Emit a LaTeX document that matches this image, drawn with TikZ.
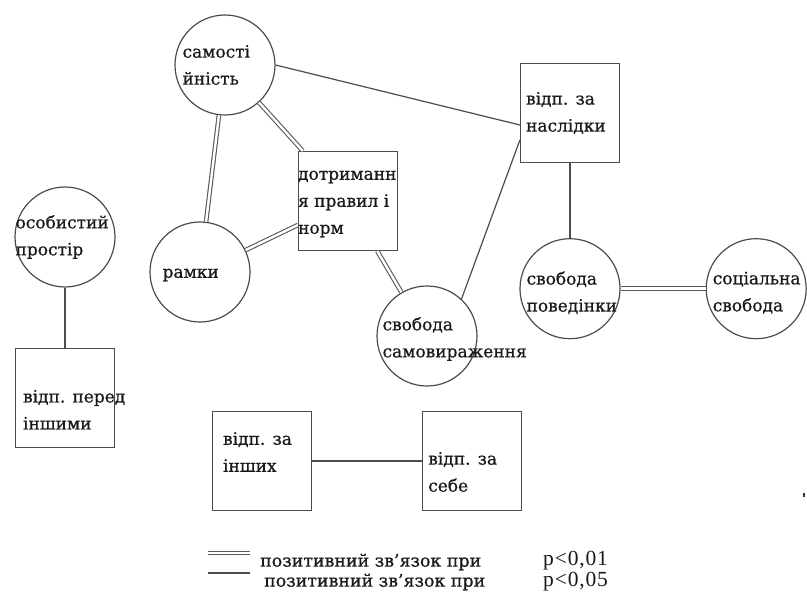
\documentclass[tikz,border=0pt]{standalone}
\usepackage{fontspec}
\setmainfont{DejaVu Serif}[FakeBold=0.7]
\newfontfamily\pfont{Liberation Serif}[LetterSpace=4]
\usetikzlibrary{positioning, calc}

\tikzset{
    circ/.style={circle, draw=black!70, line width=1.2pt, minimum size=100pt, inner sep=0pt},
    sq/.style={rectangle, draw=black!70, line width=1.2pt, minimum size=99pt, inner sep=0pt},
    lbl/.style={align=left, inner sep=0pt, text=black!90, font=\fontsize{17}{27}\selectfont},
    leg/.style={anchor=west, inner sep=0pt, text=black!90, font=\fontsize{17.4}{18}\selectfont},
    one/.style={draw=black!70, line width=1.2pt},
    two/.style={draw=black!65, line width=1.1pt, double=white, double distance=2.4pt},
}

\begin{document}
\begin{tikzpicture}[x=1pt, y=-1pt]
    \useasboundingbox (0,0) rectangle (807,599);

    % Define nodes
    \node[circ]		(samo)		at (225,65)		{};
    \node[sq]		(rules)		at (348,201)	{};
    \node[circ]		(ramky)		at (200,272)	{};
    \node[circ]		(selfexpr)	at (427,336)	{};
    \node[sq]		(naslidky)	at (570,113)	{};
    \node[circ, below = 75pt of naslidky]	(povedinka)	{};
    \node[circ, right = 85pt of povedinka]	(social)	{};
    \node[circ]		(osob)		at (65,237)		{};
    \node[sq, below = 60pt of osob]		(inshym)	{};
    \node[sq]		(zainshykh)	at (262,461)	{};
    \node[sq, right = 110pt of zainshykh]	(zasebe)	{};

    % Labels
    \node[lbl, right = 8pt of samo.west]		(samo-t)		{самості\\йність};
    \node[lbl, right = 0pt of rules.west, yshift=-3pt]	(rules-t)	{дотриманн\\я правил і\\норм};
    \node[lbl, right = 13pt of ramky.west, yshift=-3pt]	(ramky-t)	{рамки};
    \node[lbl, right = 6pt of selfexpr.west, yshift=-3pt]	(selfexpr-t)	{свобода\\самовираження};
    \node[lbl, right = 6pt of naslidky.west]	(naslidky-t)	{відп. за\\наслідки};
    \node[lbl, right = 7pt of povedinka.west, yshift=-4pt]	(povedinka-t)	{свобода\\поведінки};
    \node[lbl, right = 7pt of social.west, yshift=-4pt]	(social-t)	{соціальна\\свобода};
    \node[lbl, right = 1pt of osob.west]		(osob-t)		{особистий\\простір};
    \node[lbl, right = 8pt of inshym.west, yshift=-12pt]	(inshym-t)	{відп. перед\\іншими};
    \node[lbl, right = 11pt of zainshykh.west, yshift=9pt]	(zainshykh-t)	{відп. за\\інших};
    \node[lbl, right = 6pt of zasebe.west, yshift=-11pt]	(zasebe-t)	{відп. за\\себе};

    % Connect nodes
    \draw[two] (samo) -- (ramky);
    \draw[two] (samo) -- (rules);
    \draw[two] (ramky) -- (rules);
    \draw[two] (rules) -- (selfexpr);
    \draw[one] (samo.east) -- ($(naslidky.west)+(0,12)$);
    \draw[one] (selfexpr.47) -- ($(naslidky.west)+(0,27)$);
    \draw[one] (naslidky) -- (povedinka);
    \draw[two] (povedinka) -- (social);
    \draw[one] (osob) -- (inshym);
    \draw[one] (zainshykh) -- (zasebe);

    % legend
    \coordinate (l1a) at (208,553);
    \coordinate (l1b) at (250,553);
    \coordinate (l2a) at (208,573);
    \coordinate (l2b) at (250,573);
    \draw[two] (l1a) -- (l1b);
    \draw[one] (l2a) -- (l2b);
    \node[leg]	(leg1)	at (260,562)	{позитивний зв'язок при};
    \node[leg]	(leg2)	at (264,582)	{позитивний зв'язок при};
    \node[leg, font=\pfont\fontsize{21.5}{22}\selectfont]	(p1)	at (543,561)	{p<0,01};
    \node[leg, font=\pfont\fontsize{21.5}{22}\selectfont]	(p2)	at (543,582)	{p<0,05};

    \node[rectangle, fill=black!80, minimum width=2pt, minimum height=4pt, inner sep=0pt]	(dot)	at (804,495)	{};
\end{tikzpicture}
\end{document}
